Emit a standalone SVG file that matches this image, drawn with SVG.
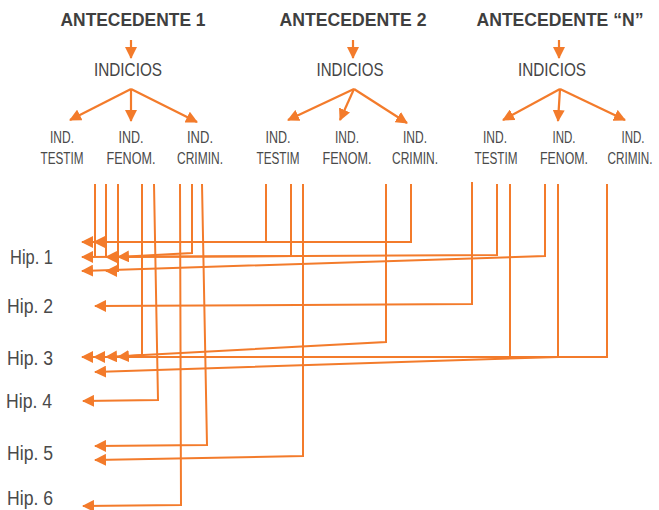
<svg xmlns="http://www.w3.org/2000/svg" width="659" height="510" viewBox="0 0 659 510">
<style>
.t{font-family:"Liberation Sans",Arial,sans-serif;font-weight:bold;font-size:18px;fill:#3f3f3f;text-anchor:middle}
.i{font-family:"Liberation Sans",Arial,sans-serif;font-size:17.5px;fill:#444;text-anchor:middle}
.s{font-family:"Liberation Sans",Arial,sans-serif;font-size:16px;fill:#4a4a4a;text-anchor:middle}
.h{font-family:"Liberation Sans",Arial,sans-serif;font-size:20px;fill:#4a4a4a}
.a{stroke:#f37b2b;stroke-width:2.2;fill:none;marker-end:url(#ah)}
.c{stroke:#f37b2b;stroke-width:2;fill:none;stroke-linejoin:miter}
.m{marker-end:url(#ah)}
</style>
<defs>
<marker id="ah" viewBox="0 0 12 12" refX="11" refY="6" markerWidth="12" markerHeight="12" markerUnits="userSpaceOnUse" orient="auto">
<path d="M0,0 L12,6 L0,12 z" fill="#f37b2b"/>
</marker>
</defs>

<g id="ant1">
<text class="t" x="133" y="26" textLength="145" lengthAdjust="spacingAndGlyphs">ANTECEDENTE 1</text>
<path class="a" d="M131,40 V58"/>
<text class="i" x="128" y="76" textLength="68" lengthAdjust="spacingAndGlyphs">INDICIOS</text>
<path class="a" d="M131,89 L70,120"/>
<path class="a" d="M131,89 V121"/>
<path class="a" d="M131,89 L197,122"/>
<text class="s" x="62" y="143" textLength="24" lengthAdjust="spacingAndGlyphs">IND.</text>
<text class="s" x="62" y="164" textLength="43" lengthAdjust="spacingAndGlyphs">TESTIM</text>
<text class="s" x="131" y="143" textLength="25" lengthAdjust="spacingAndGlyphs">IND.</text>
<text class="s" x="131" y="164" textLength="49" lengthAdjust="spacingAndGlyphs">FENOM.</text>
<text class="s" x="200" y="143" textLength="26" lengthAdjust="spacingAndGlyphs">IND.</text>
<text class="s" x="200" y="164" textLength="46" lengthAdjust="spacingAndGlyphs">CRIMIN.</text>
</g>

<g id="ant2">
<text class="t" x="353" y="26" textLength="147" lengthAdjust="spacingAndGlyphs">ANTECEDENTE 2</text>
<path class="a" d="M353,40 V58"/>
<text class="i" x="350" y="76" textLength="67" lengthAdjust="spacingAndGlyphs">INDICIOS</text>
<path class="a" d="M354,89 L288,120"/>
<path class="a" d="M354,89 L340,120"/>
<path class="a" d="M354,89 L407,123"/>
<text class="s" x="278" y="143" textLength="25" lengthAdjust="spacingAndGlyphs">IND.</text>
<text class="s" x="278" y="164" textLength="43" lengthAdjust="spacingAndGlyphs">TESTIM</text>
<text class="s" x="347" y="143" textLength="24" lengthAdjust="spacingAndGlyphs">IND.</text>
<text class="s" x="347" y="164" textLength="49" lengthAdjust="spacingAndGlyphs">FENOM.</text>
<text class="s" x="415" y="143" textLength="24" lengthAdjust="spacingAndGlyphs">IND.</text>
<text class="s" x="415" y="164" textLength="46" lengthAdjust="spacingAndGlyphs">CRIMIN.</text>
</g>

<g id="antN">
<text class="t" x="560" y="26" textLength="167" lengthAdjust="spacingAndGlyphs">ANTECEDENTE “N”</text>
<path class="a" d="M559,40 V58"/>
<text class="i" x="552" y="76" textLength="68" lengthAdjust="spacingAndGlyphs">INDICIOS</text>
<path class="a" d="M560,89 L503,120"/>
<path class="a" d="M560,89 L558,121"/>
<path class="a" d="M560,89 L625,120"/>
<text class="s" x="495" y="143" textLength="24" lengthAdjust="spacingAndGlyphs">IND.</text>
<text class="s" x="496" y="164" textLength="43" lengthAdjust="spacingAndGlyphs">TESTIM</text>
<text class="s" x="564" y="143" textLength="23" lengthAdjust="spacingAndGlyphs">IND.</text>
<text class="s" x="564" y="164" textLength="48" lengthAdjust="spacingAndGlyphs">FENOM.</text>
<text class="s" x="633" y="143" textLength="23" lengthAdjust="spacingAndGlyphs">IND.</text>
<text class="s" x="630" y="164" textLength="45" lengthAdjust="spacingAndGlyphs">CRIMIN.</text>
</g>

<g id="hip1"><text class="h" x="10" y="264" textLength="43" lengthAdjust="spacingAndGlyphs">Hip. 1</text></g>
<g id="hip2"><text class="h" x="7" y="313" textLength="46" lengthAdjust="spacingAndGlyphs">Hip. 2</text></g>
<g id="hip3"><text class="h" x="7" y="365" textLength="46" lengthAdjust="spacingAndGlyphs">Hip. 3</text></g>
<g id="hip4"><text class="h" x="6" y="408" textLength="46" lengthAdjust="spacingAndGlyphs">Hip. 4</text></g>
<g id="hip5"><text class="h" x="7" y="460" textLength="46" lengthAdjust="spacingAndGlyphs">Hip. 5</text></g>
<g id="hip6"><text class="h" x="7" y="505" textLength="46" lengthAdjust="spacingAndGlyphs">Hip. 6</text></g>

<g id="connectors">
<path class="c m" d="M411,184 V242 H82"/>
<path class="c m" d="M266,184 V242 H94"/>
<path class="c m" d="M497,184 V255 L82,257"/>
<path class="c m" d="M291,184 V256 L106,257"/>
<path class="c m" d="M192,184 V253 L118,257"/>
<path class="c" d="M95,184 V257"/>
<path class="c" d="M106,184 V257"/>
<path class="c m" d="M545,184 V256 L82,271"/>
<path class="c m" d="M118,184 V271 H106"/>
<path class="c m" d="M472,182 V304 L95,306"/>
<path class="c m" d="M607,184 V357 H82"/>
<path class="c m" d="M510,184 V357 H94"/>
<path class="c m" d="M386,184 V342 L106,357"/>
<path class="c m" d="M142,184 V355 L118,357"/>
<path class="c m" d="M558,184 V357 L95,372"/>
<path class="c m" d="M154,184 L158,400 L83,401"/>
<path class="c m" d="M202,184 L207,445 L95,446"/>
<path class="c m" d="M303,184 V456 L95,460"/>
<path class="c m" d="M180,184 L181,505 L83,506"/>
</g>
</svg>
